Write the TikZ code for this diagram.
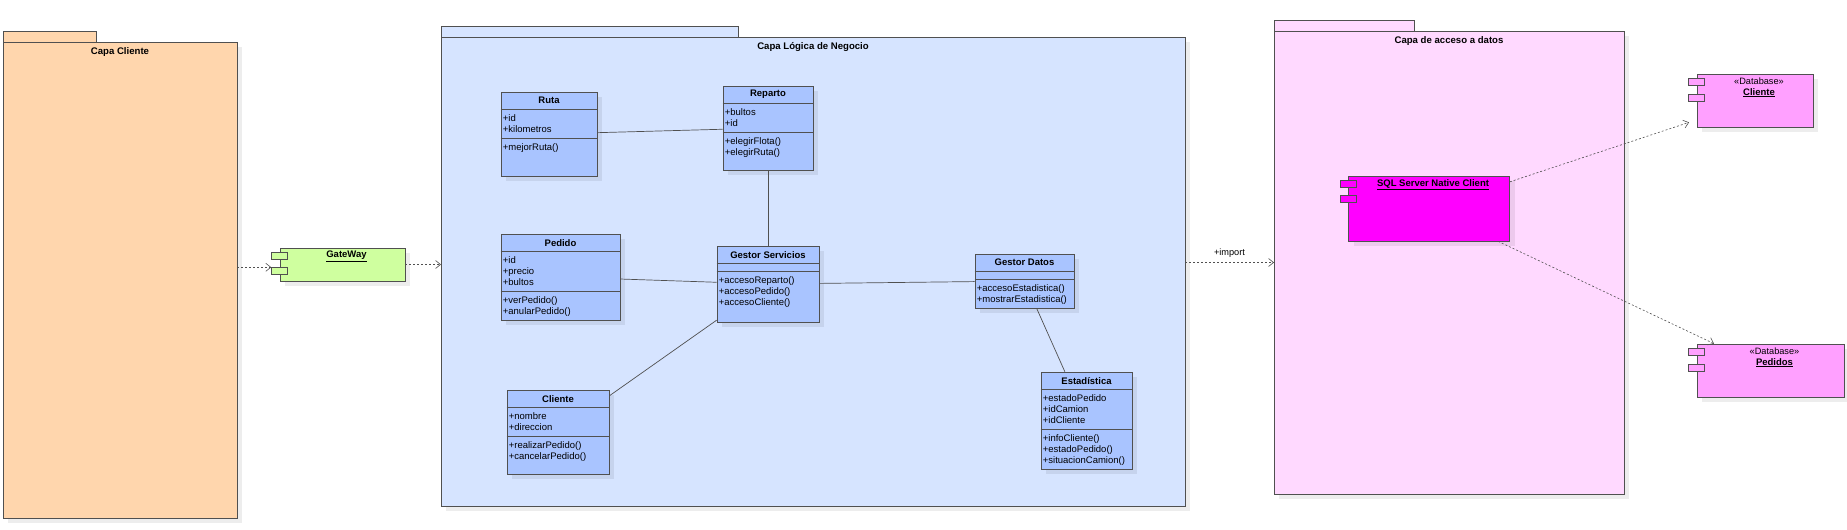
\documentclass[tikz,border=0pt]{standalone}
\usepackage{fontspec}
\setmainfont{Liberation Sans}
\usetikzlibrary{shapes,arrows.meta,positioning,shadows}
\definecolor{cliFill}{HTML}{FFD6AD}
\definecolor{logFill}{HTML}{D6E4FF}
\definecolor{clsFill}{HTML}{A9C4FF}
\definecolor{gwFill}{HTML}{CFFF9F}
\definecolor{accFill}{HTML}{FFD9FF}
\definecolor{sqlFill}{HTML}{FF00FF}
\definecolor{dbFill}{HTML}{FFA0FF}
\definecolor{edge}{HTML}{505050}
\tikzstyle{shade} = [drop shadow={shadow xshift=5pt,shadow yshift=-5pt,fill=black,opacity=.07}]
\tikzstyle{pkg} = [draw=edge,line width=0.9pt,rectangle,inner sep=0,outer sep=0,shade]
\tikzstyle{tab} = [draw=edge,line width=0.9pt,rectangle,inner sep=0,outer sep=0,minimum height=11pt]
\tikzstyle{pkgtitle} = [font=\bfseries\fontsize{9.6}{12}\selectfont,inner sep=0]
\tikzstyle{cls} = [draw=edge,line width=0.7pt,fill=clsFill,rectangle,inner sep=0,shade]
\tikzstyle{clsname} = [font=\bfseries\fontsize{9.5}{11}\selectfont,inner sep=0]
\tikzstyle{members} = [anchor=north west,align=left,inner xsep=2pt,inner ysep=4.5pt,font=\fontsize{9.5}{11}\selectfont]
\tikzstyle{sep} = [draw=edge,line width=0.7pt]
\tikzstyle{comp} = [draw=edge,line width=0.7pt,rectangle,inner sep=0,shade]
\tikzstyle{port} = [draw=edge,line width=0.7pt,rectangle,inner sep=0,minimum width=16pt,minimum height=7pt]
\tikzstyle{compname} = [font=\bfseries\fontsize{9.5}{11}\selectfont,inner sep=0]
\tikzstyle{stereo} = [font=\fontsize{9.2}{11}\selectfont,inner sep=0]
\tikzstyle{assoc} = [-,draw=edge,line width=0.7pt]
\tikzstyle{dep} = [-{Straight Barb[length=5pt,width=8pt]},draw=edge,line width=0.6pt,dash pattern=on 2pt off 2pt]
\def \hd {18pt}
\newcommand{\umlclass}[8]{%
  \node[cls,minimum width=#3,minimum height=#4] (#1) at #2 {};
  \node[clsname] at ([yshift=-9pt]#1.north) {#5};
  \draw[sep] ([yshift=-\hd]#1.north west) -- ([yshift=-\hd]#1.north east);
  \draw[sep] ([yshift=-\hd-#6]#1.north west) -- ([yshift=-\hd-#6]#1.north east);
  \node[members] at ([yshift=-\hd]#1.north west) {#7};
  \node[members] at ([yshift=-\hd-#6]#1.north west) {#8};
}
\begin{document}
\begin{tikzpicture}[x=1pt,y=-1pt]
  \useasboundingbox (0,0) rectangle (1847,530);
  \node[pkg,fill=cliFill,minimum width=234pt,minimum height=476pt] (cli) at (120,280) {};
  \node[tab,fill=cliFill,minimum width=93pt,above right=0pt of cli.north west] (clitab) {};
  \node[pkgtitle] at ([yshift=-10.5pt]cli.north) {Capa Cliente};
  \node[pkg,fill=logFill,minimum width=744pt,minimum height=469pt] (logica) at (813,271.5) {};
  \node[tab,fill=logFill,minimum width=297pt,above right=0pt of logica.north west] (logtab) {};
  \node[pkgtitle] at ([yshift=-10pt]logica.north) {Capa Lógica de Negocio};
  \node[pkg,fill=accFill,minimum width=350pt,minimum height=463pt] (acceso) at (1449,262.5) {};
  \node[tab,fill=accFill,minimum width=140pt,above right=0pt of acceso.north west] (acctab) {};
  \node[pkgtitle] at ([yshift=-10pt]acceso.north) {Capa de acceso a datos};

  \node[comp,fill=gwFill,minimum width=125pt,minimum height=33pt] (gw) at (342.5,264.5) {};
  \node[port,fill=gwFill] (gwp1) at ([yshift=-8.5pt]gw.north west) {};
  \node[port,fill=gwFill] (gwp2) at ([yshift=-23.5pt]gw.north west) {};
  \node[compname] at ([xshift=4pt,yshift=-9pt]gw.north) {\underline{GateWay}};

  \umlclass{ruta}{(549,134)}{96pt}{84pt}{Ruta}{29pt}{+id\\+kilometros}{+mejorRuta()}
  \umlclass{reparto}{(768,128)}{90pt}{84pt}{Reparto}{29pt}{+bultos\\+id}{+elegirFlota()\\+elegirRuta()}
  \umlclass{pedido}{(560.5,277)}{119pt}{86pt}{Pedido}{40pt}{+id\\+precio\\+bultos}{+verPedido()\\+anularPedido()}
  \umlclass{gserv}{(768,284)}{102pt}{76pt}{Gestor Servicios}{8pt}{}{+accesoReparto()\\+accesoPedido()\\+accesoCliente()}
  \umlclass{cliente}{(558,432)}{102pt}{84pt}{Cliente}{29pt}{+nombre\\+direccion}{+realizarPedido()\\+cancelarPedido()}
  \umlclass{gdatos}{(1024.5,281)}{99pt}{54pt}{Gestor Datos}{8pt}{}{+accesoEstadistica()\\+mostrarEstadistica()}
  \umlclass{estad}{(1086.5,420.5)}{91pt}{97pt}{Estadística}{40pt}{+estadoPedido\\+idCamion\\+idCliente}{+infoCliente()\\+estadoPedido()\\+situacionCamion()}

  \node[comp,fill=sqlFill,minimum width=161pt,minimum height=65pt] (sql) at (1429,208.5) {};
  \node[port,fill=sqlFill] (sqlp1) at ([yshift=-8.5pt]sql.north west) {};
  \node[port,fill=sqlFill] (sqlp2) at ([yshift=-23.5pt]sql.north west) {};
  \node[compname] at ([xshift=4pt,yshift=-9pt]sql.north) {\underline{SQL Server Native Client}};

  \node[comp,fill=dbFill,minimum width=116pt,minimum height=53pt] (dbcli) at (1755,100.5) {};
  \node[port,fill=dbFill] (dbclip1) at ([yshift=-8.5pt]dbcli.north west) {};
  \node[port,fill=dbFill] (dbclip2) at ([yshift=-24.5pt]dbcli.north west) {};
  \node[stereo] at ([xshift=4pt,yshift=-8pt]dbcli.north) {«Database»};
  \node[compname] at ([xshift=4pt,yshift=-19pt]dbcli.north) {\underline{Cliente}};

  \node[comp,fill=dbFill,minimum width=147pt,minimum height=53pt] (dbped) at (1770.5,370.5) {};
  \node[port,fill=dbFill] (dbpedp1) at ([yshift=-8.5pt]dbped.north west) {};
  \node[port,fill=dbFill] (dbpedp2) at ([yshift=-24.5pt]dbped.north west) {};
  \node[stereo] at ([xshift=4pt,yshift=-8pt]dbped.north) {«Database»};
  \node[compname] at ([xshift=4pt,yshift=-19pt]dbped.north) {\underline{Pedidos}};

  \draw[assoc] (ruta) -- (reparto);
  \draw[assoc] (reparto) -- (gserv);
  \draw[assoc] (pedido) -- (gserv);
  \draw[assoc] (cliente) -- (gserv);
  \draw[assoc] (gserv) -- (gdatos);
  \draw[assoc] (gdatos) -- (estad);
  \draw[dep] (cli.east |- gwp2.north west) -- (gwp2.north west);
  \draw[dep] (gw.east) -- (gw.east -| logica.west);
  \draw[dep] (acceso.west -| logica.east) -- node[above=5pt,stereo]{+import} (acceso.west);
  \draw[dep,shorten >=8pt] (sql) -- (dbcli);
  \draw[dep] (sql) -- (dbped);
\end{tikzpicture}
\end{document}
